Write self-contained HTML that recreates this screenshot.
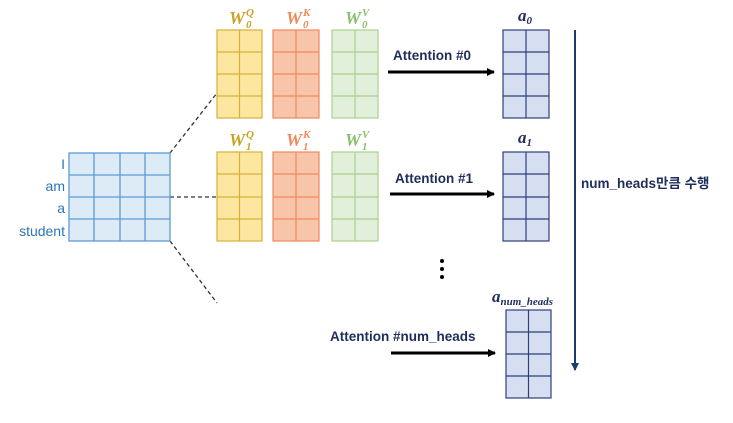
<!DOCTYPE html>
<html><head><meta charset="utf-8"><style>
body{margin:0;background:#fff;}
</style></head><body>
<svg width="733" height="418" xmlns="http://www.w3.org/2000/svg" font-family="Liberation Sans, Noto Sans CJK KR, sans-serif">
<defs>
<marker id="ah" markerWidth="8" markerHeight="8" refX="7" refY="4" orient="auto" markerUnits="userSpaceOnUse"><path d="M0,0 L8,4 L0,8z" fill="#000"/></marker>
<marker id="av" markerWidth="8" markerHeight="8" refX="7" refY="4" orient="auto" markerUnits="userSpaceOnUse"><path d="M0,0 L8,4 L0,8z" fill="#1f3a6e"/></marker>
</defs>
<g stroke="#333" stroke-width="1.3" stroke-dasharray="4,3">
<line x1="170" y1="153" x2="217" y2="93"/>
<line x1="170" y1="197" x2="217" y2="197"/>
<line x1="170" y1="241" x2="217" y2="303"/>
</g>
<g stroke="#5b9bd5" stroke-width="1.3" fill="#ddebf7">
<rect x="69" y="153" width="101" height="88"/>
<line x1="94" y1="153" x2="94" y2="241"/><line x1="120" y1="153" x2="120" y2="241"/><line x1="145" y1="153" x2="145" y2="241"/>
<line x1="69" y1="175" x2="170" y2="175"/><line x1="69" y1="197" x2="170" y2="197"/><line x1="69" y1="219" x2="170" y2="219"/>
</g>
<g fill="#2e75b6" font-size="14" text-anchor="end">
<text x="65" y="169">I</text><text x="65" y="191">am</text><text x="65" y="213">a</text><text x="65" y="236">student</text>
</g>
<g stroke-width="1.2">
<g stroke="#d6b13a" fill="#fde7a0">
<rect x="217" y="30" width="45" height="88"/><line x1="239.5" y1="30" x2="239.5" y2="118"/><line x1="217" y1="52" x2="262" y2="52"/><line x1="217" y1="74" x2="262" y2="74"/><line x1="217" y1="96" x2="262" y2="96"/>
<rect x="217" y="152" width="45" height="89"/><line x1="239.5" y1="152" x2="239.5" y2="241"/><line x1="217" y1="174" x2="262" y2="174"/><line x1="217" y1="197" x2="262" y2="197"/><line x1="217" y1="219" x2="262" y2="219"/>
</g>
<g stroke="#ed8a5c" fill="#f8c5ab">
<rect x="273" y="30" width="46" height="88"/><line x1="296" y1="30" x2="296" y2="118"/><line x1="273" y1="52" x2="319" y2="52"/><line x1="273" y1="74" x2="319" y2="74"/><line x1="273" y1="96" x2="319" y2="96"/>
<rect x="273" y="152" width="46" height="89"/><line x1="296" y1="152" x2="296" y2="241"/><line x1="273" y1="174" x2="319" y2="174"/><line x1="273" y1="197" x2="319" y2="197"/><line x1="273" y1="219" x2="319" y2="219"/>
</g>
<g stroke="#a9d18e" fill="#e2efda">
<rect x="332" y="30" width="46" height="88"/><line x1="355" y1="30" x2="355" y2="118"/><line x1="332" y1="52" x2="378" y2="52"/><line x1="332" y1="74" x2="378" y2="74"/><line x1="332" y1="96" x2="378" y2="96"/>
<rect x="332" y="152" width="46" height="89"/><line x1="355" y1="152" x2="355" y2="241"/><line x1="332" y1="174" x2="378" y2="174"/><line x1="332" y1="197" x2="378" y2="197"/><line x1="332" y1="219" x2="378" y2="219"/>
</g>
<g stroke="#2f3f7a" fill="#d6dff2">
<rect x="503" y="30" width="46" height="88"/><line x1="526" y1="30" x2="526" y2="118"/><line x1="503" y1="52" x2="549" y2="52"/><line x1="503" y1="74" x2="549" y2="74"/><line x1="503" y1="96" x2="549" y2="96"/>
<rect x="503" y="152" width="46" height="89"/><line x1="526" y1="152" x2="526" y2="241"/><line x1="503" y1="174" x2="549" y2="174"/><line x1="503" y1="197" x2="549" y2="197"/><line x1="503" y1="219" x2="549" y2="219"/>
<rect x="506" y="310" width="45" height="88"/><line x1="528.5" y1="310" x2="528.5" y2="398"/><line x1="506" y1="332" x2="551" y2="332"/><line x1="506" y1="354" x2="551" y2="354"/><line x1="506" y1="376" x2="551" y2="376"/>
</g>
</g>
<g font-family="Liberation Serif, serif" font-style="italic" font-weight="bold">
<g fill="#c9a227"><text x="229" y="24" font-size="18">W</text><text x="246" y="28" font-size="11">0</text><text x="246" y="16" font-size="11">Q</text>
<text x="229" y="146" font-size="18">W</text><text x="246" y="150" font-size="11">1</text><text x="246" y="138" font-size="11">Q</text></g>
<g fill="#ed8a5c"><text x="286" y="24" font-size="18">W</text><text x="303" y="28" font-size="11">0</text><text x="303" y="16" font-size="11">K</text>
<text x="286" y="146" font-size="18">W</text><text x="303" y="150" font-size="11">1</text><text x="303" y="138" font-size="11">K</text></g>
<g fill="#8cbf6c"><text x="345" y="24" font-size="18">W</text><text x="362" y="28" font-size="11">0</text><text x="362" y="16" font-size="11">V</text>
<text x="345" y="146" font-size="18">W</text><text x="362" y="150" font-size="11">1</text><text x="362" y="138" font-size="11">V</text></g>
<g fill="#1f2d5a" font-size="17"><text x="518" y="21">a<tspan font-size="11" dy="3">0</tspan></text>
<text x="518" y="143">a<tspan font-size="11" dy="3">1</tspan></text>
<text x="492" y="302">a<tspan font-size="11" dy="3">num_heads</tspan></text></g>
</g>
<g fill="#1f2d5a" font-weight="bold" font-size="13.5">
<text x="393" y="60">Attention #0</text>
<text x="395" y="183">Attention #1</text>
<text x="330" y="341">Attention #num_heads</text>
<text x="581" y="188">num_heads만큼 수행</text>
</g>
<g stroke="#000" stroke-width="3">
<line x1="388" y1="72" x2="494" y2="72" marker-end="url(#ah)"/>
<line x1="390" y1="194" x2="494" y2="194" marker-end="url(#ah)"/>
<line x1="391" y1="353" x2="495" y2="353" marker-end="url(#ah)"/>
</g>
<line x1="575" y1="30" x2="575" y2="370" stroke="#1f3a6e" stroke-width="2" marker-end="url(#av)"/>
<g fill="#000"><circle cx="442" cy="261" r="2"/><circle cx="442" cy="269" r="2"/><circle cx="442" cy="277" r="2"/></g>
</svg>
</body></html>
